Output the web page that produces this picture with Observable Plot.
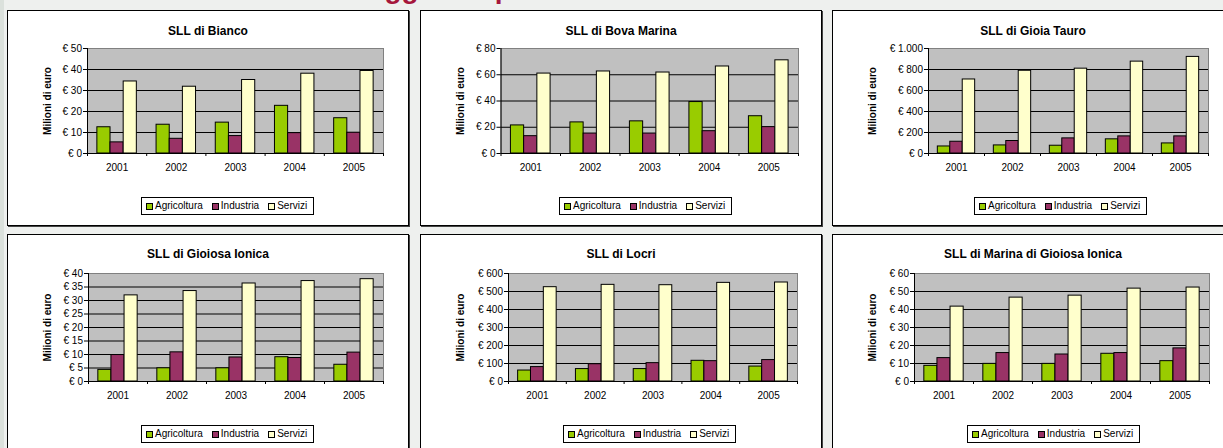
<!DOCTYPE html>
<html>
<head>
<meta charset="utf-8">
<script src="https://cdn.jsdelivr.net/npm/d3@7"></script>
<script src="https://cdn.jsdelivr.net/npm/@observablehq/plot@0.6"></script>
<style>
  html, body { margin: 0; padding: 0; }
  body { width: 1223px; height: 448px; overflow: hidden; position: relative; background: #eef0ee; font-family: "Liberation Sans", Arial, sans-serif; }
  #strip { position: absolute; left: 0; top: 0; width: 4px; height: 448px; background: #dbe1dc; }
  #slideTitle { position: absolute; left: 277px; top: -25px; font: bold 28px/28px "Liberation Sans", Arial, sans-serif; color: #a5173c; white-space: nowrap; }
  .panel { position: absolute; box-sizing: border-box; width: 402px; background: #fff; border: 1px solid #000; box-shadow: 1px 1px 0 #444; }
  .panel svg { position: absolute; left: 0; top: 0; }
  .ptitle { position: absolute; left: 0; width: 100%; text-align: center; font: bold 12px/14px "Liberation Sans", Arial, sans-serif; color: #000; }
  .legend { position: absolute; box-sizing: border-box; height: 18px; border: 1px solid #000; background: #fff; display: flex; align-items: center; padding: 0 6px 0 4px; font: 10px/12px "Liberation Sans", Arial, sans-serif; color: #000; white-space: nowrap; }
  .legend .sw { display: inline-block; box-sizing: border-box; width: 7px; height: 7px; border: 1px solid #000; margin-right: 2px; }
  .legend .lt { margin-right: 9px; }
  .legend .lt:last-child { margin-right: 0; }
</style>
</head>
<body>
<div id="strip"></div>
<div id="slideTitle">Valore aggiunto per settore</div>
<script>
// ---- data ----
const years = [2001, 2002, 2003, 2004, 2005];
const series = ["Agricoltura", "Industria", "Servizi"];
const seriesColors = ["#99cc00", "#993366", "#ffffcc"];
const titles = ["SLL di Bianco", "SLL di Bova Marina", "SLL di Gioia Tauro", "SLL di Gioiosa Ionica", "SLL di Locri", "SLL di Marina di Gioiosa Ionica"];
const yAxisTitle = "Milioni di euro";

const biancoAgr = [12.5, 13.7, 14.7, 22.7, 16.8];
const biancoInd = [5.3, 7.0, 8.3, 9.7, 9.9];
const biancoSer = [34.3, 31.8, 35.0, 38.0, 39.3];

const bovaAgr = [21.4, 23.7, 24.5, 39.2, 28.4];
const bovaInd = [13.2, 15.2, 15.2, 17.0, 20.1];
const bovaSer = [60.9, 62.5, 61.7, 66.3, 71.0];

const gioiaAgr = [67, 77, 74, 135, 96];
const gioiaInd = [112, 119, 144, 163, 163];
const gioiaSer = [705, 788, 808, 875, 920];

const gioiosaAgr = [4.3, 4.9, 4.9, 9.0, 6.2];
const gioiosaInd = [9.8, 10.8, 8.9, 8.7, 10.7];
const gioiosaSer = [31.9, 33.5, 36.3, 37.2, 37.9];

const locriAgr = [61, 69, 69, 115, 83];
const locriInd = [80, 96, 102, 113, 119];
const locriSer = [524, 537, 535, 548, 550];

const marinaAgr = [8.7, 9.8, 9.8, 15.4, 11.3];
const marinaInd = [13.0, 15.8, 15.0, 15.8, 18.4];
const marinaSer = [41.6, 46.6, 47.7, 51.6, 52.2];

const yMaxes = [50, 80, 1000, 40, 600, 60];
const ySteps = [10, 20, 200, 5, 100, 10];

// ---- layout ----
const panelLefts = [7, 420, 832, 7, 420, 832];
const panelTops = [10, 10, 10, 234, 234, 234];
const panelHeights = [216, 216, 216, 222, 222, 222];
const marginLefts = [79, 79.5, 95, 80, 87, 81];
const marginRights = [25, 23, 25, 25, 24, 24];
const plotTops = [37, 37, 37, 38, 38, 38];
const plotBottoms = [142, 142, 142, 146, 146, 146];
const titleTops = [13, 13, 13, 12, 12, 12];
const legendLefts = [133, 138, 141, 133, 142, 134];
const legendTops = [186, 186, 186, 190, 190, 190];

const valueSets = [
  [biancoAgr, biancoInd, biancoSer],
  [bovaAgr, bovaInd, bovaSer],
  [gioiaAgr, gioiaInd, gioiaSer],
  [gioiosaAgr, gioiosaInd, gioiosaSer],
  [locriAgr, locriInd, locriSer],
  [marinaAgr, marinaInd, marinaSer]
];

const itLocale = d3.formatLocale({decimal: ",", thousands: ".", grouping: [3], currency: ["€ ", ""]});
const fmtNum = itLocale.format(",");
const euro = d => "€ " + fmtNum(d);

const gapWidth = 1.5; // Excel gap width, in bar widths
const unit = 1 / (series.length + gapWidth);

function makeChart(k) {
  const rows = [];
  years.forEach((yr, i) => series.forEach((s, j) => rows.push({year: yr, series: s, si: j, value: valueSets[k][j][i]})));
  const ticks = d3.range(0, yMaxes[k] + ySteps[k] / 2, ySteps[k]);
  const x0 = years[0] - 0.5, x1 = years[years.length - 1] + 0.5;
  const bounds = d3.range(x0, x1 + 0.01, 1);
  const mb = 26;
  return Plot.plot({
    width: 400,
    height: plotBottoms[k] + mb,
    marginTop: plotTops[k],
    marginBottom: mb,
    marginLeft: marginLefts[k],
    marginRight: marginRights[k],
    style: {background: "transparent", fontFamily: "'Liberation Sans', Arial, sans-serif", fontSize: "10px", color: "#000", overflow: "visible"},
    x: {domain: [x0, x1], axis: null},
    y: {domain: [0, yMaxes[k]], axis: null},
    color: {domain: series, range: seriesColors},
    marks: [
      Plot.frame({fill: "#c0c0c0", stroke: "#808080"}),
      Plot.ruleY(ticks.slice(1, -1), {stroke: "#000"}),
      Plot.rect(rows, {
        x1: d => d.year - 0.5 + unit * (gapWidth / 2 + d.si),
        x2: d => d.year - 0.5 + unit * (gapWidth / 2 + d.si + 1),
        y1: 0,
        y2: "value",
        fill: "series",
        stroke: "#000",
        strokeWidth: 1
      }),
      Plot.ruleX([x0], {stroke: "#000"}),
      Plot.ruleY([0], {stroke: "#000"}),
      Plot.axisY({ticks, tickSize: 4, tickPadding: 1.5, tickFormat: euro, label: null, fontSize: 10}),
      Plot.axisY({ticks: [], label: yAxisTitle, labelArrow: "none", labelAnchor: "center", labelOffset: marginLefts[k] - 35.5, fontWeight: "bold", fontSize: 10}),
      Plot.axisX({ticks: bounds, tickSize: 3, tickFormat: () => "", label: null}),
      Plot.axisX({ticks: years, tickSize: 0, tickPadding: 10, tickFormat: d => String(d), label: null, fontSize: 10})
    ]
  });
}

for (let k = 0; k < 6; k++) {
  const panel = document.createElement("div");
  panel.className = "panel";
  panel.style.left = panelLefts[k] + "px";
  panel.style.top = panelTops[k] + "px";
  panel.style.height = panelHeights[k] + "px";
  panel.appendChild(makeChart(k));

  const t = document.createElement("div");
  t.className = "ptitle";
  t.style.top = titleTops[k] + "px";
  t.textContent = titles[k];
  panel.appendChild(t);

  const lg = document.createElement("div");
  lg.className = "legend";
  lg.style.left = legendLefts[k] + "px";
  lg.style.top = legendTops[k] + "px";
  series.forEach((s, j) => {
    const sw = document.createElement("span");
    sw.className = "sw";
    sw.style.background = seriesColors[j];
    lg.appendChild(sw);
    const lt = document.createElement("span");
    lt.className = "lt";
    lt.textContent = s;
    lg.appendChild(lt);
  });
  panel.appendChild(lg);
  document.body.appendChild(panel);
}
</script>
</body>
</html>
